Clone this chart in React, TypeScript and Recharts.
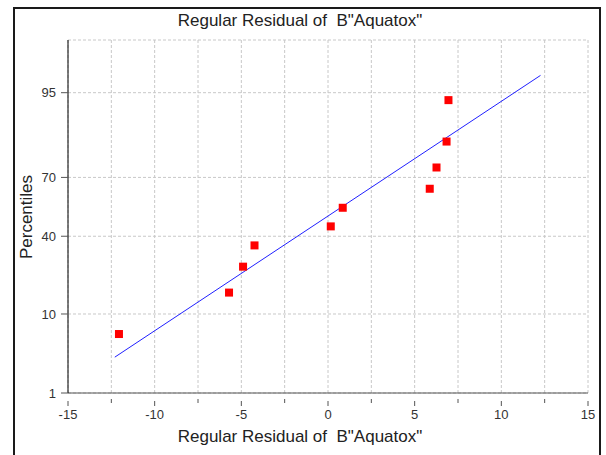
import React from "react";
import {
  CartesianGrid,
  Scatter,
  ScatterChart,
  XAxis,
  YAxis,
} from "recharts";

// residuals (x) and their plotting percentiles (y)
const residuals = [-12.06, -5.71, -4.9, -4.24, 0.16, 0.85, 5.87, 6.26, 6.84, 6.95];
const percentiles = [6.1, 15.9, 25.6, 35.4, 45.1, 54.9, 64.6, 74.4, 84.1, 93.9];

// fitted reference line end points
const fitX = [-12.3, 12.26];
const fitPct = [3.2, 96.95];

const xTicks = [-15, -12.5, -10, -7.5, -5, -2.5, 0, 2.5, 5, 7.5, 10, 12.5, 15];
const yTickPct = [1, 10, 40, 70, 95];
const yTickLabels = ["1", "10", "40", "70", "95"];
const yRangePct = [1, 99.04];

const FONT = '"Liberation Sans", Arial, sans-serif';

// inverse standard normal CDF (Acklam), used for the probability axis
function probit(pct: number): number {
  const p = pct / 100;
  const a = [-39.69683028665376, 220.9460984245205, -275.9285104469687, 138.357751867269, -30.66479806614716, 2.506628277459239];
  const b = [-54.47609879822406, 161.5858368580409, -155.6989798598866, 66.80131188771972, -13.28068155288572];
  const c = [-0.007784894002430293, -0.3223964580411365, -2.400758277161838, -2.549732539343734, 4.374664141464968, 2.938163982698783];
  const d = [0.007784695709041462, 0.3224671290700398, 2.445134137142996, 3.754408661907416];
  const pl = 0.02425;
  if (p < pl) {
    const q = Math.sqrt(-2 * Math.log(p));
    return (((((c[0] * q + c[1]) * q + c[2]) * q + c[3]) * q + c[4]) * q + c[5]) /
      ((((d[0] * q + d[1]) * q + d[2]) * q + d[3]) * q + 1);
  }
  if (p > 1 - pl) {
    const q = Math.sqrt(-2 * Math.log(1 - p));
    return -(((((c[0] * q + c[1]) * q + c[2]) * q + c[3]) * q + c[4]) * q + c[5]) /
      ((((d[0] * q + d[1]) * q + d[2]) * q + d[3]) * q + 1);
  }
  const q = p - 0.5;
  const r = q * q;
  return ((((((a[0] * r + a[1]) * r + a[2]) * r + a[3]) * r + a[4]) * r + a[5]) * q) /
    (((((b[0] * r + b[1]) * r + b[2]) * r + b[3]) * r + b[4]) * r + 1);
}

const points = residuals.map((x, i) => ({ x, z: probit(percentiles[i]) }));
const fitLine = fitX.map((x, i) => ({ x, z: probit(fitPct[i]) }));
const yTicks = yTickPct.map(probit);

function XTick(props: any) {
  const { x, y, payload } = props;
  const v = payload.value as number;
  const major = v % 5 === 0;
  return (
    <g>
      <line x1={x} x2={x} y1={y - (major ? 0 : 2)} y2={y + (major ? 5 : 2)} stroke="#555" />
      {major && (
        <text x={x} y={y + 18} textAnchor="middle" fontSize={13} fill="#333" fontFamily={FONT}>
          {v}
        </text>
      )}
    </g>
  );
}

function Square(props: any) {
  const { cx, cy } = props;
  if (cx == null || cy == null) return null;
  return <rect x={cx - 4} y={cy - 4} width={8} height={8} fill="#ff0000" />;
}

export default function App() {
  return (
    <div style={{ position: "absolute", left: 0, top: 0, width: 606, height: 455, overflow: "hidden", background: "#fff", fontFamily: FONT }}>
      <div
        style={{
          position: "absolute",
          left: 13,
          top: 7,
          width: 584,
          height: 470,
          border: "2px solid #1a1a1a",
        }}
      />
      <div style={{ position: "absolute", left: 0, width: 600, top: 11, textAlign: "center", fontSize: 17, color: "#222" }}>
        Regular Residual of&nbsp; B"Aquatox"
      </div>
      <div style={{ position: "absolute", left: 0, width: 600, top: 427, textAlign: "center", fontSize: 17, color: "#222" }}>
        Regular Residual of&nbsp; B"Aquatox"
      </div>
      <div
        style={{
          position: "absolute",
          left: 27,
          top: 217,
          transform: "translate(-50%, -50%) rotate(-90deg)",
          fontSize: 17,
          color: "#222",
          whiteSpace: "nowrap",
        }}
      >
        Percentiles
      </div>
      <div style={{ position: "absolute", left: 0, top: 0 }}>
        <ScatterChart width={606} height={455} margin={{ top: 40, right: 18, bottom: 0, left: 0 }}>
          <CartesianGrid stroke="#c8c8c8" strokeDasharray="3 2" />
          <XAxis
            type="number"
            dataKey="x"
            domain={[-15, 15]}
            ticks={xTicks}
            interval={0}
            height={62}
            axisLine={{ stroke: "#555" }}
            tickLine={false}
            tick={<XTick />}
          />
          <YAxis
            type="number"
            dataKey="z"
            domain={[probit(yRangePct[0]), probit(yRangePct[1])]}
            ticks={yTicks}
            interval={0}
            width={68}
            axisLine={{ stroke: "#000" }}
            tickLine={{ stroke: "#555" }}
            tickSize={7}
            tickMargin={5}
            tickFormatter={(_v: number, i: number) => yTickLabels[i]}
            tick={{ fontSize: 13, fill: "#333", fontFamily: FONT }}
          />
          <Scatter
            data={fitLine}
            line={{ stroke: "#2020ff", strokeWidth: 1 }}
            shape={() => <g />}
            isAnimationActive={false}
            legendType="none"
          />
          <Scatter data={points} shape={<Square />} isAnimationActive={false} />
        </ScatterChart>
      </div>
    </div>
  );
}
